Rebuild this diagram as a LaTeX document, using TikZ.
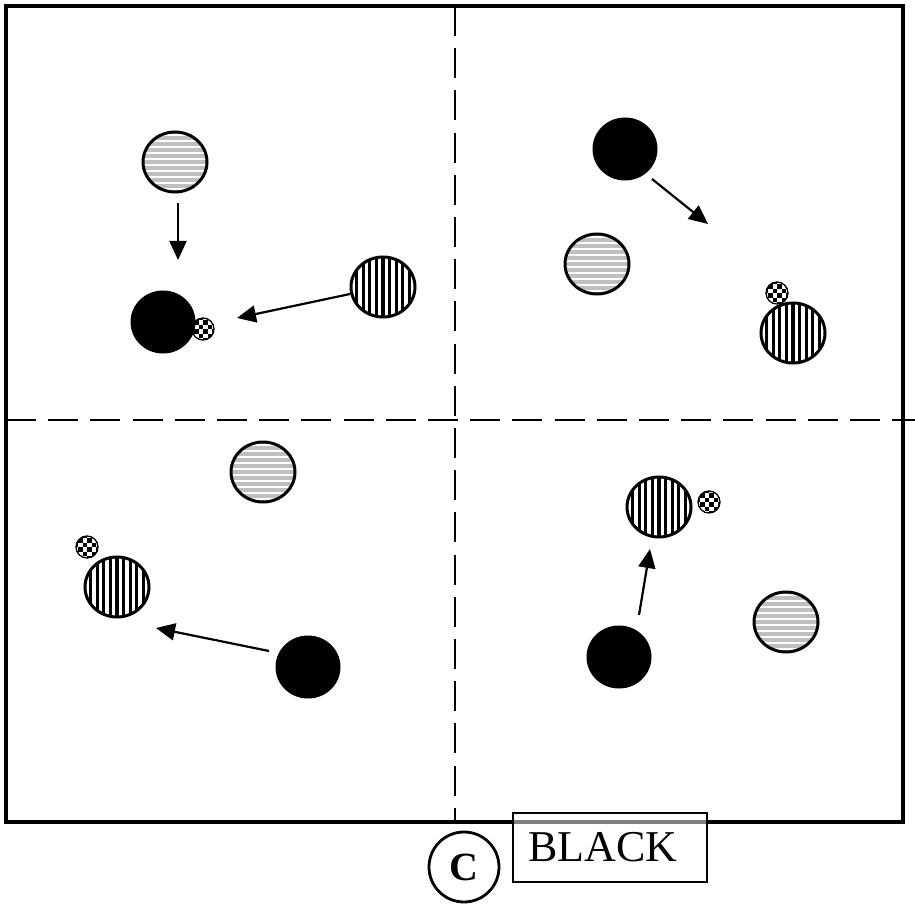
\documentclass[tikz,border=0pt]{standalone}
\usepackage{fontspec}
\setmainfont{Liberation Serif}
\usetikzlibrary{arrows.meta,shapes.geometric,calc}
\begin{document}
\begin{tikzpicture}[x=1pt,y=-1pt,
  ballbase/.style={ellipse, draw, line width=3pt, minimum width=64pt, minimum height=60pt, inner sep=0pt},
  hball/.style={ballbase, path picture={\foreach \k in {-6,...,6}{\fill[gray!50] ($(path picture bounding box.center)+(-40pt,\k*6pt-1.6pt)$) rectangle ++(80pt,3.2pt);}}},
  vball/.style={ballbase, path picture={\foreach \k in {-6,...,6}{\fill[black] ($(path picture bounding box.center)+(\k*6.6pt-1.6pt,-40pt)$) rectangle ++(3.2pt,80pt);}}},
  bball/.style={ellipse, draw, fill=black, line width=1pt, minimum width=64pt, minimum height=62pt, inner sep=0pt},
  cball/.style={circle, draw, line width=1.3pt, minimum size=22pt, inner sep=0pt,
    path picture={\foreach \i in {-3,...,2}{\foreach \j in {-3,...,2}{\pgfmathtruncatemacro\cpar{mod(\i+\j+10,2)}\ifnum\cpar=1 \fill[black] ($(path picture bounding box.center)+(\i*4.5pt,\j*4.5pt)$) rectangle ++(4.5pt,4.5pt);\fi}}}},
  arr/.style={-{Triangle[length=19pt,width=17pt]}, line width=2.2pt},
  dashline/.style={line width=2.2pt, dash pattern=on 30pt off 12.2pt},
  frame/.style={line width=3.2pt}]
\useasboundingbox (0,0) rectangle (915,909);
% quadrant lines
\coordinate (hl) at (6,420);
\coordinate (hr) at (915,420);
\coordinate (vt) at (455,6);
\coordinate (vb) at (455,822);
\draw[dashline] (hl) -- (hr);
\draw[dashline] (vt) -- (vb);
% frame
\coordinate (f1) at (6,6);
\coordinate (f2) at (903,822);
\draw[frame] (f1) rectangle (f2);
% top-left quadrant
\node[hball] (tlh) at (175,162) {};
\node[bball] (tlb) at (163,322) {};
\node[cball] (tlc) at (203,329) {};
\node[vball] (tlv) at (383,287) {};
\coordinate (a1s) at (178,203);
\coordinate (a1e) at (178,260);
\coordinate (a2s) at (350,294);
\coordinate (a2e) at (237,318);
\draw[arr] (a1s) -- (a1e);
\draw[arr] (a2s) -- (a2e);
% top-right quadrant
\node[bball] (trb) at (625,149) {};
\node[hball] (trh) at (597,264) {};
\node[cball] (trc) at (777,293) {};
\node[vball] (trv) at (793,333) {};
\coordinate (a3s) at (652,179);
\coordinate (a3e) at (708,224);
\draw[arr] (a3s) -- (a3e);
% bottom-left quadrant
\node[hball] (blh) at (263,472) {};
\node[cball] (blc) at (87,547) {};
\node[vball] (blv) at (117,587) {};
\node[bball] (blb) at (308,667) {};
\coordinate (a4s) at (269,651);
\coordinate (a4e) at (156,628);
\draw[arr] (a4s) -- (a4e);
% bottom-right quadrant
\node[vball] (brv) at (659,507) {};
\node[cball] (brc) at (709,502) {};
\node[bball] (brb) at (619,657) {};
\node[hball] (brh) at (786,622) {};
\coordinate (a5s) at (639,615);
\coordinate (a5e) at (650,549);
\draw[arr] (a5s) -- (a5e);
% labels
\node[circle, draw, line width=2.8pt, minimum size=70pt, inner sep=0pt, font=\fontsize{40}{40}\selectfont\bfseries] (lab) at (464,867) {C};
\node[draw, line width=1.2pt, fill=white, fill opacity=0.5, text opacity=1, minimum height=69pt, inner xsep=15pt, text width=164pt, align=left, font=\fontsize{44}{44}\selectfont] (team) at (610,847.5) {BLACK};
\end{tikzpicture}
\end{document}
